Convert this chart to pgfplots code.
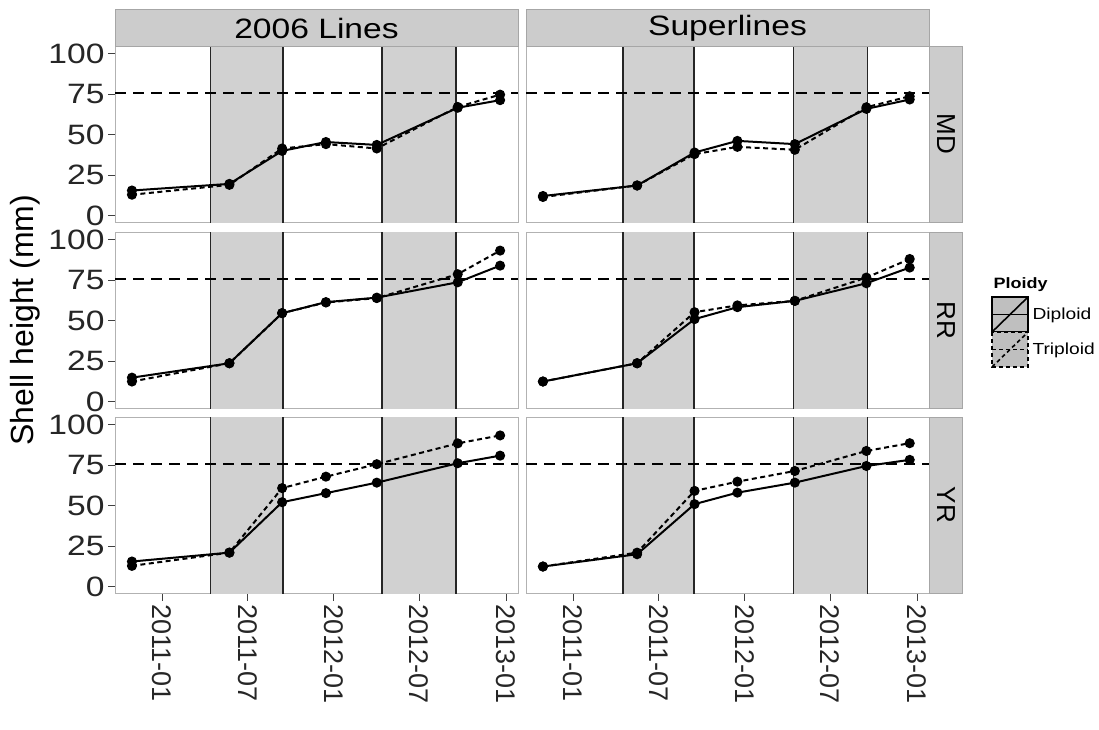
\documentclass[border=0pt]{standalone}
\usepackage{fontspec}
\setmainfont{Liberation Sans}
\newfontfamily\hfont[FakeStretch=1.2]{Liberation Sans}
\usepackage{pgfplots}
\usepackage{pgfplotstable}
\pgfplotsset{compat=1.18}

% days after 2011-01-01 ; Diploid ; Triploid
\pgfplotstableread{
x dip tri
-64 15.5 12.9
143 19.6 19.0
255 40.0 41.5
348 45.5 44.2
456 43.7 41.5
628 66.7 67.2
718 71.4 74.8
}\mdA
\pgfplotstableread{
x dip tri
-64 12.1 11.5
136 18.6 18.6
258 39.0 38.0
349 46.2 42.5
471 44.2 40.7
623 66.0 67.0
715 71.8 73.8
}\mdB
\pgfplotstableread{
x dip tri
-64 14.8 12.4
143 23.7 23.7
255 54.7 54.7
348 61.5 61.3
456 64.3 64.0
628 73.8 78.8
718 84.1 93.4
}\rrA
\pgfplotstableread{
x dip tri
-64 12.4 12.4
136 23.7 23.7
258 51.0 55.3
349 58.4 59.5
471 62.3 62.3
623 73.2 76.7
715 82.9 88.2
}\rrB
\pgfplotstableread{
x dip tri
-64 15.5 12.8
143 21.0 21.0
255 52.2 60.9
348 57.8 68.0
456 64.3 75.7
628 76.3 88.6
718 81.0 93.5
}\yrA
\pgfplotstableread{
x dip tri
-64 12.4 12.4
136 20.0 21.0
258 51.0 59.2
349 58.1 64.9
471 64.3 71.5
623 74.6 83.9
715 78.4 88.7
}\yrB

\pgfplotsset{
  panel/.style={
    scale only axis, width=403pt, height=176.5pt,
    xmin=-100, xmax=756, ymin=-4.3, ymax=104.9,
    axis line style={black!30, line width=0.8pt},
    xtick={0,181,365,546,731},
    ytick={0,25,50,75,100},
    xtick pos=bottom, ytick pos=left,
    tick align=outside,
    major tick length=7pt,
    tick style={black!75, line width=1.1pt},
    xticklabels={}, yticklabels={},
    /pgf/number format/assume math mode=true,
    clip=true,
  },
  leftcol/.style={yticklabels={0,25,50,75,100},
    yticklabel style={font=\hfont\fontsize{28}{28}\selectfont, text=black!85}},
  rightcol/.style={ytick=\empty},
  bottomrow/.style={xticklabels={2011-01,2011-07,2012-01,2012-07,2013-01},
    xticklabel style={rotate=-90, anchor=west, font=\fontsize{27}{27}\selectfont, text=black!85}},
  upperrow/.style={xtick=\empty},
}

\newcommand{\panelcontent}[5]{%
  \addplot[fill=black!18, draw=black!85, line width=1.6pt] coordinates {(#2,-20) (#2,120) (#3,120) (#3,-20)};
  \addplot[fill=black!18, draw=black!85, line width=1.6pt] coordinates {(#4,-20) (#4,120) (#5,120) (#5,-20)};
  \addplot[black, line width=2pt, dash pattern=on 11pt off 7pt] coordinates {(-100,76) (756,76)};
  \addplot[black, line width=2pt, dash pattern=on 5pt off 3.5pt, mark=*, mark size=4pt, mark options={solid}] table[x=x,y=tri] {#1};
  \addplot[black, line width=2pt, mark=*, mark size=4pt] table[x=x,y=dip] {#1};
}

\begin{document}
\begin{tikzpicture}
\useasboundingbox (0,0) rectangle (1099pt,-729pt);

\begin{axis}[panel, leftcol, upperrow, at={(115pt,-46pt)}, anchor=north west]
\panelcontent{\mdA}{103}{257}{467}{624}
\end{axis}
\begin{axis}[panel, rightcol, upperrow, at={(526pt,-46pt)}, anchor=north west]
\panelcontent{\mdB}{106}{257}{468}{625}
\end{axis}
\begin{axis}[panel, leftcol, upperrow, at={(115pt,-232pt)}, anchor=north west]
\panelcontent{\rrA}{103}{257}{467}{624}
\end{axis}
\begin{axis}[panel, rightcol, upperrow, at={(526pt,-232pt)}, anchor=north west]
\panelcontent{\rrB}{106}{257}{468}{625}
\end{axis}
\begin{axis}[panel, leftcol, bottomrow, at={(115pt,-417pt)}, anchor=north west]
\panelcontent{\yrA}{103}{257}{467}{624}
\end{axis}
\begin{axis}[panel, rightcol, bottomrow, at={(526pt,-417pt)}, anchor=north west]
\panelcontent{\yrB}{106}{257}{468}{625}
\end{axis}

% top strips
\draw[fill=black!20, draw=black!35, line width=0.8pt] (115pt,-9.5pt) rectangle (518pt,-46pt);
\draw[fill=black!20, draw=black!35, line width=0.8pt] (526pt,-9.5pt) rectangle (929pt,-46pt);
\node[font=\hfont\fontsize{28}{28}\selectfont] at (316.5pt,-28pt) {2006 Lines};
\node[font=\hfont\fontsize{28}{28}\selectfont] at (727.5pt,-28pt) {Superlines};

% right strips
\draw[fill=black!20, draw=black!35, line width=0.8pt] (929pt,-46pt) rectangle (962pt,-222.5pt);
\draw[fill=black!20, draw=black!35, line width=0.8pt] (929pt,-232pt) rectangle (962pt,-408.5pt);
\draw[fill=black!20, draw=black!35, line width=0.8pt] (929pt,-417pt) rectangle (962pt,-593.5pt);
\node[rotate=-90, font=\fontsize{26}{26}\selectfont] at (946pt,-134pt) {MD};
\node[rotate=-90, font=\fontsize{26}{26}\selectfont] at (946pt,-320pt) {RR};
\node[rotate=-90, font=\fontsize{26}{26}\selectfont] at (946pt,-505pt) {YR};

% y label
\node[rotate=90, font=\fontsize{32}{32}\selectfont] at (25pt,-320pt) {Shell height (mm)};

% legend
\node[anchor=west, font=\hfont\bfseries\fontsize{15}{15}\selectfont] at (990pt,-285pt) {Ploidy};
\draw[fill=black!25, draw=black, line width=1.3pt] (992pt,-297pt) rectangle (1028pt,-332pt);
\draw[black, line width=1.6pt] (992pt,-332pt) -- (1028pt,-297pt);
\draw[black, line width=1.6pt] (992pt,-314.5pt) -- (1028pt,-314.5pt);
\draw[fill=black!25, draw=black, line width=1.3pt, dash pattern=on 4pt off 3pt] (992pt,-332pt) rectangle (1028pt,-367pt);
\draw[black, line width=1.6pt, dash pattern=on 4pt off 3pt] (992pt,-367pt) -- (1028pt,-332pt);
\draw[black, line width=1.6pt, dash pattern=on 4pt off 3pt] (992pt,-349.5pt) -- (1028pt,-349.5pt);
\node[anchor=west, font=\hfont\fontsize{16}{16}\selectfont] at (1029pt,-315pt) {Diploid};
\node[anchor=west, font=\hfont\fontsize{16}{16}\selectfont] at (1029pt,-350pt) {Triploid};
\end{tikzpicture}
\end{document}
